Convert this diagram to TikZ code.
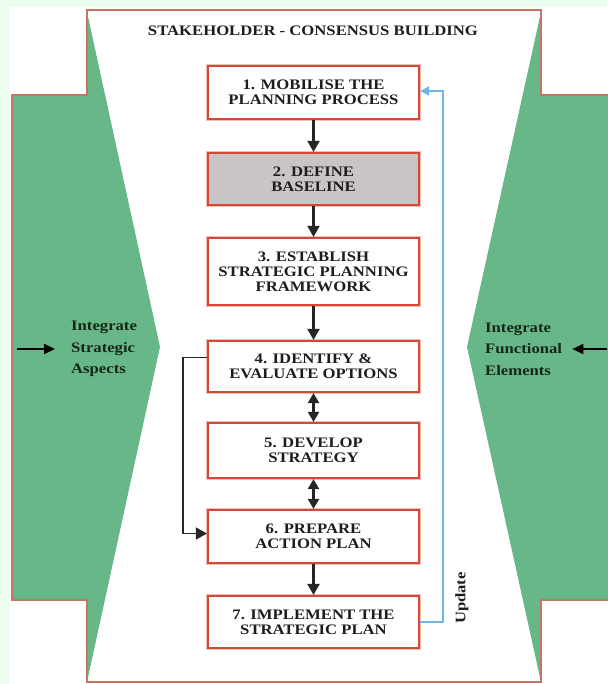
\documentclass[tikz,border=0pt]{standalone}
\usepackage{fontspec}
\setmainfont{Liberation Serif}[FakeStretch=1.15]
\usetikzlibrary{arrows.meta,calc}
\definecolor{bgmargin}{RGB}{235,253,236}
\definecolor{gfill}{RGB}{104,183,137}
\definecolor{outl}{RGB}{196,118,98}
\definecolor{boxred}{RGB}{212,72,58}
\definecolor{boxhalo}{RGB}{243,190,180}
\definecolor{grayfill}{RGB}{202,197,197}
\definecolor{updcol}{RGB}{112,182,228}
\definecolor{txt}{RGB}{30,28,28}
\definecolor{lblcol}{RGB}{20,38,24}
\begin{document}
\begin{tikzpicture}[x=1pt,y=-1pt,
  stepbox/.style={draw=boxred, line width=2.2pt, fill=white, minimum width=211pt,
    inner sep=0pt, align=center, text=txt,
    preaction={draw=boxhalo, line width=4.6pt},
    font=\fontsize{14.5}{15}\selectfont\bfseries},
  arr/.style={draw=black!85, line width=2.2pt, -{Triangle[length=11pt,width=12pt]}},
  dbl/.style={draw=black!85, line width=2.2pt, {Triangle[length=10pt,width=11pt]}-{Triangle[length=10pt,width=11pt]}},
  sidearr/.style={draw=black, line width=1.8pt, -{Triangle[length=11pt,width=10pt]}},
  updarr/.style={draw=updcol, line width=1.6pt, -{Triangle[length=9pt,width=9pt]}},
  sidelbl/.style={align=left, anchor=west, text=lblcol, inner sep=0pt,
    font=\fontsize{14.5}{21.5}\selectfont\bfseries}
]
\useasboundingbox (0,0) rectangle (607,684);
\fill[bgmargin] (0,0) rectangle (607,684);
\fill[white] (9,7) rectangle (607,684);
% green wedges
\fill[gfill] (87,12) -- (160,347) -- (87,682) -- (87,600) -- (12,600) -- (12,95) -- (87,95) -- cycle;
\fill[gfill] (541,12) -- (467,347) -- (541,682) -- (541,600) -- (612,600) -- (612,95) -- (541,95) -- cycle;
% cross outline
\draw[outl, line width=1.8pt] (612,95) -- (541,95) -- (541,10) -- (87,10) -- (87,95) -- (12,95)
  -- (12,600) -- (87,600) -- (87,682) -- (541,682) -- (541,600) -- (612,600);
% title
\node[text=txt, font=\fontsize{14.5}{15}\selectfont\bfseries] (title) at (313,31) {STAKEHOLDER - CONSENSUS BUILDING};
% boxes
\node[stepbox, minimum height=53pt] (b1) at (313.5,92.5) {1. MOBILISE THE\\PLANNING PROCESS};
\node[stepbox, minimum height=52pt, fill=grayfill] (b2) at (313.5,179) {2. DEFINE\\BASELINE};
\node[stepbox, minimum height=67pt] (b3) at (313.5,271.5) {3. ESTABLISH\\STRATEGIC PLANNING\\FRAMEWORK};
\node[stepbox, minimum height=51pt] (b4) at (313.5,366.5) {4. IDENTIFY \&\\EVALUATE OPTIONS};
\node[stepbox, minimum height=55pt] (b5) at (313.5,450.5) {5. DEVELOP\\STRATEGY};
\node[stepbox, minimum height=53pt] (b6) at (313.5,536.5) {6. PREPARE\\ACTION PLAN};
\node[stepbox, minimum height=52pt] (b7) at (313.5,622) {7. IMPLEMENT THE\\STRATEGIC PLAN};
% connectors
\draw[arr] (b1) -- (b2);
\draw[arr] (b2) -- (b3);
\draw[arr] (b3) -- (b4);
\draw[dbl] (b4) -- (b5);
\draw[dbl] (b5) -- (b6);
\draw[arr] (b6) -- (b7);
\draw[arr, line width=1.6pt] ([yshift=9pt]b4.west) -- ++(-24,0) |- ([yshift=3pt]b6.west);
\draw[updarr] (b7.east) -- ++(23,0) |- ([yshift=1.5pt]b1.east);
\node[rotate=90, text=txt, font=\fontsize{14.5}{15}\selectfont\bfseries] (upd) at (462,598) {Update};
% side labels
\node[sidelbl] (lblL) at (71,349) {Integrate\\Strategic\\Aspects};
\node[sidelbl] (lblR) at (485,349) {Integrate\\Functional\\Elements};
\coordinate (inL) at (17,349);
\coordinate (inR) at (607,349);
\draw[sidearr] (inL) -- ([xshift=-16pt]lblL.west);
\draw[sidearr] (inR) -- ([xshift=10pt]lblR.east);
\end{tikzpicture}
\end{document}
